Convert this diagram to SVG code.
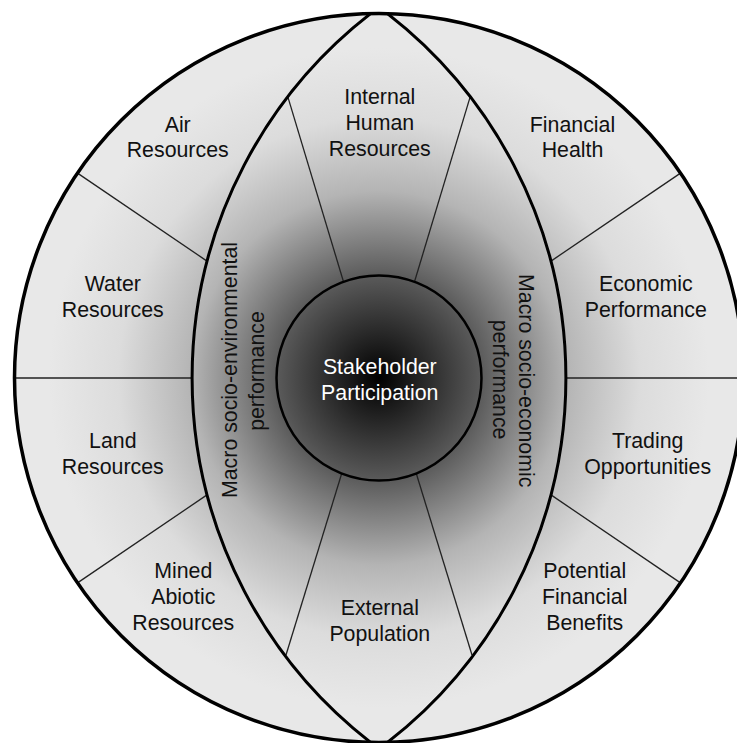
<svg xmlns="http://www.w3.org/2000/svg" width="737" height="743" viewBox="0 0 737 743">
  <defs>
    <!-- shared shading: dark core fading to pale grey at the rim -->
    <radialGradient id="shade" gradientUnits="userSpaceOnUse" cx="379" cy="378" r="330">
      <stop offset="0" stop-color="#000000"/>
      <stop offset="0.303" stop-color="#585858"/>
      <stop offset="0.567" stop-color="#b4b4b4"/>
      <stop offset="0.79" stop-color="#dcdcdc"/>
      <stop offset="1" stop-color="#e8e8e8"/>
    </radialGradient>
    <clipPath id="disc">
      <circle cx="379" cy="378" r="364.5"/>
    </clipPath>
  </defs>
  <style>
    .lbl { font-family: "Liberation Sans", Arial, sans-serif; font-size: 21.33px; fill: #111; text-anchor: middle; }
    .core { fill: #ffffff; }
    .thin { stroke: #222; stroke-width: 1.3; fill: none; }
    .arc { stroke: #000; stroke-width: 3; fill: none; }
  </style>

  <!-- background disc -->
  <circle id="disc-fill" cx="379" cy="378" r="364.5" fill="url(#shade)"/>

  <!-- segment boundaries -->
  <g id="connectors" clip-path="url(#disc)">
    <!-- outer ring, left side -->
    <line class="thin" x1="77.5" y1="173.1" x2="207" y2="261.1"/>
    <line class="thin" x1="10" y1="378" x2="193" y2="378"/>
    <line class="thin" x1="77.5" y1="582.9" x2="207" y2="494.9"/>
    <!-- outer ring, right side -->
    <line class="thin" x1="680.5" y1="173.1" x2="551" y2="261.1"/>
    <line class="thin" x1="565" y1="378" x2="750" y2="378"/>
    <line class="thin" x1="680.5" y1="582.9" x2="551" y2="494.9"/>
    <!-- lens, top and bottom wedges -->
    <line class="thin" x1="287.7" y1="96.4" x2="352" y2="310"/>
    <line class="thin" x1="470.3" y1="96.4" x2="406" y2="310"/>
    <line class="thin" x1="286" y1="655" x2="352" y2="440"/>
    <line class="thin" x1="472" y1="655" x2="406" y2="440"/>
    <!-- lens outline -->
    <path class="arc" d="M370.6,13.6 A461.2,461.2 0 0 0 370.6,742.4"/>
    <path class="arc" d="M387.4,13.6 A461.2,461.2 0 0 1 387.4,742.4"/>
  </g>

  <!-- outer rim -->
  <circle cx="379" cy="378" r="364.5" fill="none" stroke="#000" stroke-width="3.5"/>

  <g id="stakeholder-participation">
    <circle cx="379" cy="378" r="102.5" fill="url(#shade)" stroke="#000" stroke-width="2.5"/>
    <text class="lbl core" x="379.8" y="373.6">Stakeholder</text>
    <text class="lbl core" x="379.8" y="399.5">Participation</text>
  </g>

  <g id="internal-human-resources">
    <text class="lbl" x="379.8" y="104.3">Internal</text>
    <text class="lbl" x="379.8" y="130.2">Human</text>
    <text class="lbl" x="379.8" y="156.1">Resources</text>
  </g>

  <g id="external-population">
    <text class="lbl" x="379.8" y="615">External</text>
    <text class="lbl" x="379.8" y="641">Population</text>
  </g>

  <g id="macro-socio-environmental">
    <text class="lbl" transform="translate(237,370) rotate(-90)" x="0" y="0">Macro socio-environmental</text>
    <text class="lbl" transform="translate(264,371) rotate(-90)" x="0" y="0">performance</text>
  </g>

  <g id="macro-socio-economic">
    <text class="lbl" transform="translate(519,380.7) rotate(90)" x="0" y="0">Macro socio-economic</text>
    <text class="lbl" transform="translate(493,379.6) rotate(90)" x="0" y="0">performance</text>
  </g>

  <g id="air-resources">
    <text class="lbl" x="177.7" y="131.6">Air</text>
    <text class="lbl" x="177.7" y="157.4">Resources</text>
  </g>

  <g id="water-resources">
    <text class="lbl" x="112.8" y="291">Water</text>
    <text class="lbl" x="112.8" y="317">Resources</text>
  </g>

  <g id="land-resources">
    <text class="lbl" x="112.8" y="448">Land</text>
    <text class="lbl" x="112.8" y="474">Resources</text>
  </g>

  <g id="mined-abiotic-resources">
    <text class="lbl" x="183.3" y="578">Mined</text>
    <text class="lbl" x="183.3" y="604">Abiotic</text>
    <text class="lbl" x="183.3" y="630">Resources</text>
  </g>

  <g id="financial-health">
    <text class="lbl" x="572.5" y="131.6">Financial</text>
    <text class="lbl" x="572.5" y="157.4">Health</text>
  </g>

  <g id="economic-performance">
    <text class="lbl" x="645.8" y="291">Economic</text>
    <text class="lbl" x="645.8" y="317">Performance</text>
  </g>

  <g id="trading-opportunities">
    <text class="lbl" x="647.7" y="448">Trading</text>
    <text class="lbl" x="647.7" y="474">Opportunities</text>
  </g>

  <g id="potential-financial-benefits">
    <text class="lbl" x="584.7" y="578">Potential</text>
    <text class="lbl" x="584.7" y="604">Financial</text>
    <text class="lbl" x="584.7" y="630">Benefits</text>
  </g>
</svg>
